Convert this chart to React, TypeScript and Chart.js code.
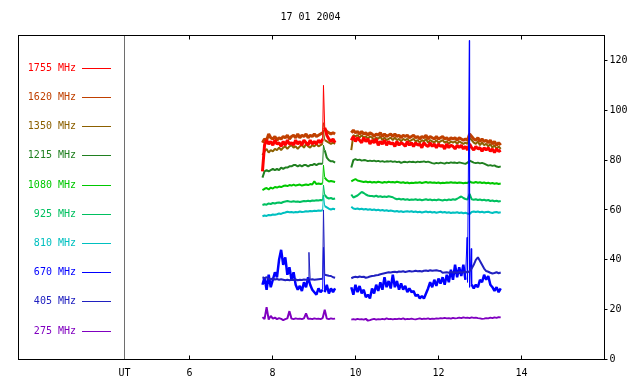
import React, { useEffect, useRef } from 'react';
import { Chart, registerables } from 'chart.js';

Chart.register(...registerables);

const FONT = '"DejaVu Sans Mono", monospace';
const TITLE = '17 01 2004';
const X_MIN = 1.883;
const X_MAX = 16;
const UT_POS = 4.436;
const X_TICKS = [6, 8, 10, 12, 14];
const Y_TICKS = [0, 20, 40, 60, 80, 100, 120];
const SEG1_START = 7.76;
const SEG2_START = 9.9;
const STEP = 0.05;
const GAP_AT = 9.7;

const CHANNELS = ['1755 MHz', '1620 MHz', '1350 MHz', '1215 MHz', '1080 MHz', '925 MHz', '810 MHz', '670 MHz', '405 MHz', '275 MHz'];
const COLORS = ['#ff0000', '#c04000', '#8c6000', '#208020', '#00c800', '#00c060', '#00c0c0', '#0000ff', '#2020c0', '#8000c0'];
const DRAW_ORDER = [2, 3, 4, 5, 6, 7, 8, 1, 0, 9];
const WIDTHS = [3, 3, 2, 2, 2, 2, 2, 2.5, 2, 2];

// 1755 MHz
const F1755_A = [75.5, 86, 88, 86.5, 87.5, 86, 88, 86.5, 87, 85.5,
  87.5, 86, 88, 86.5, 87, 86, 88, 86.5, 87.5, 86,
  88, 87, 86, 88, 86.5, 87.5, 86.5, 88, 87, 88.5,
  93, 90, 88.5, 87.5, 88.5, 87];
const F1755_B = [88, 89.5, 87.5, 89, 88, 87, 89, 87.5, 88.5, 86.5,
  88, 87, 88.5, 86, 87.5, 86.5, 88, 86, 87.5, 86.5,
  87, 85.5, 87.5, 86, 87, 86.5, 85.5, 87.5, 86, 87,
  85.5, 87, 86, 86.5, 85, 87, 86, 85.5, 87, 85.5,
  86.5, 85, 86.5, 85.5, 86, 84.5, 86.5, 85, 86, 85.5,
  84.5, 86, 85, 86, 84.5, 85.5, 84, 86.5, 85, 84,
  85.5, 84.5, 85, 83.5, 85, 84, 85, 83.5, 84.5, 83,
  84.5, 83.5, 84];
const F1755_SPIKES = [[9.23, 110]];

// 1620 MHz
const F1620_A = [87, 88.5, 88, 90.5, 89, 88.5, 89.5, 88, 89, 88.5,
  89.5, 89, 90, 88.5, 89.5, 90, 89, 90.5, 89, 90,
  89.5, 90.5, 89, 90, 89.5, 90.5, 89.5, 90, 90.5, 91,
  92.5, 91.5, 91, 90.5, 91, 90.5];
const F1620_B = [91, 92, 91, 91.5, 90.5, 91.5, 90.5, 91, 90, 91,
  90.5, 89.5, 90.5, 90, 91, 89.5, 90.5, 89.5, 90, 90.5,
  89.5, 90.5, 89.5, 90, 89, 90, 89.5, 90, 89, 89.5,
  90, 89, 89.5, 88.5, 89.5, 89, 90, 88.5, 89.5, 89,
  88.5, 89.5, 88.5, 89, 89.5, 88.5, 89, 88, 89, 88.5,
  89, 88, 89, 88.5, 88, 88.5, 88, 90.5, 89.5, 88.5,
  88, 89, 87.5, 88.5, 87.5, 88, 87, 88, 86.5, 87.5,
  86, 87, 86];
const F1620_SPIKES = [[9.23, 95]];

// 1350 MHz
const F1350_A = [82, 83.5, 84.5, 83, 84, 83.5, 84.5, 84, 85, 84,
  85, 85.5, 84.5, 85.5, 86, 85, 85.5, 84.5, 85.5, 86,
  85, 86.5, 85.5, 85, 86, 85.5, 86.5, 85.5, 86, 86.5,
  88, 87.5, 87, 86.5, 87, 86.5];
const F1350_B = [84, 90, 89.5, 90, 89, 90, 89, 89.5, 88.5, 89.5,
  89, 88, 89, 88.5, 89.5, 88, 89, 88, 88.5, 89,
  88, 89, 88, 88.5, 87.5, 88.5, 88, 88.5, 87.5, 88,
  88.5, 87.5, 88, 87, 88, 87.5, 88.5, 87, 88, 87.5,
  87, 88, 87, 87.5, 88, 87, 87.5, 86.5, 87.5, 87,
  87.5, 86.5, 87.5, 87, 86.5, 87, 86.5, 89, 88, 87,
  86.5, 87.5, 86, 87, 86, 86.5, 85.5, 86.5, 85, 86,
  84.5, 85.5, 84.5];
const F1350_SPIKES = [[9.23, 92]];

// 1215 MHz
const F1215_A = [73, 75.5, 76, 75.5, 76, 76.5, 76, 76.5, 76, 77,
  76.5, 77, 77, 77.5, 77.5, 78, 78, 77.5, 78, 77.5,
  78, 78, 77.5, 78, 78, 78.5, 78, 78.5, 78.5, 78.5,
  84, 81, 80, 79.5, 79.5, 79];
const F1215_B = [77, 80, 80.4, 80, 80.2, 79.8, 80, 79.9, 79.6, 79.8,
  79.6, 79.8, 79.5, 79.7, 79.4, 79.6, 79.3, 79.5, 79.4, 79.6,
  79.3, 79.5, 79.2, 79.4, 78.9, 79.2, 79.3, 79.1, 79.4, 79.2,
  79.3, 79.1, 79.4, 79.2, 79.3, 79.5, 79.2, 79.4, 79.1, 78.8,
  78.6, 78.9, 78.7, 79, 78.8, 78.6, 79, 78.8, 79.1, 78.9,
  79, 78.8, 79.1, 78.9, 78.7, 78.5, 79, 79.8, 79.4, 79,
  78.8, 79, 78.7, 78.9, 78.6, 78.2, 77.8, 78, 77.7, 77.9,
  77.4, 77.2, 77.5];
const F1215_SPIKES = [[9.23, 86]];

// 1080 MHz
const F1080_A = [68, 68.5, 68.8, 68.2, 69, 68.6, 69.2, 69, 69.4, 69.2,
  69.6, 69.8, 69.6, 70, 69.8, 70.2, 69.8, 70, 70.2, 69.8,
  70, 70.2, 70, 70.4, 70.2, 71.5, 70.4, 70.6, 70.4, 70.6,
  73, 72, 71.4, 71.6, 71.4, 71.2];
const F1080_B = [71.5, 72, 72.4, 71.8, 71.6, 71.4, 71.2, 71.4, 71.1, 71.3,
  71, 71.2, 71, 71.3, 71.1, 70.9, 71.2, 71, 71.3, 71.1,
  71.2, 71, 71.3, 71.1, 70.9, 71.1, 70.8, 71, 70.7, 70.9,
  70.8, 71, 70.9, 71.1, 70.8, 71, 71.2, 70.9, 71.1, 70.9,
  71, 70.8, 71, 70.7, 70.9, 70.8, 71, 70.9, 71.1, 70.9,
  71, 70.8, 71, 70.9, 70.7, 70.9, 70.8, 71.5, 71, 70.9,
  71.2, 70.9, 71.1, 70.8, 71, 70.7, 70.9, 70.6, 70.8, 70.5,
  70.7, 70.4, 70.6];
const F1080_SPIKES = [[9.23, 78]];

// 925 MHz
const F925_A = [62, 62.3, 62.1, 62.6, 62.4, 62.8, 62.6, 62.9, 63, 62.8,
  63.2, 63.4, 63.6, 63.4, 63.3, 63.5, 63.3, 63.4, 63.2, 63.4,
  63.6, 63.5, 63.7, 63.5, 63.8, 63.7, 63.9, 63.8, 64, 63.9,
  66, 65, 64.6, 64.8, 64.4, 64.6];
const F925_B = [66.2, 65, 65.4, 65.8, 66.5, 67.2, 66.8, 66.2, 65.8, 65.6,
  65.6, 65.4, 65.7, 65.3, 65.5, 65.2, 65.4, 65.2, 65.5, 65.3,
  65.1, 64.6, 64.3, 64.5, 64.2, 64.4, 64.1, 64.3, 64, 64.2,
  64.1, 64.3, 64, 64.2, 63.9, 64.1, 64.3, 64, 64.2, 63.9,
  64.1, 63.9, 64.2, 64, 63.8, 64.1, 63.9, 64.2, 64, 64.3,
  64.1, 64.5, 65, 65.4, 64.8, 64.4, 64.2, 66.5, 64.3, 64.1,
  64.3, 64, 64.2, 63.9, 64.1, 63.8, 64, 63.6, 63.8, 63.5,
  63.7, 63.4, 63.6];
const F925_SPIKES = [[9.23, 70]];

// 810 MHz
const F810_A = [57.5, 57.8, 57.6, 58, 57.9, 58.2, 58.1, 58.3, 58.6, 58.4,
  58.8, 59, 59.3, 59.1, 59.2, 59, 59.2, 59.1, 59.4, 59.2,
  59.3, 59.5, 59.4, 59.6, 59.5, 59.7, 59.6, 59.8, 59.7, 59.9,
  61.5, 61, 60.5, 60.2, 60.5, 60.3];
const F810_B = [61.3, 60.6, 60.4, 60.6, 60.3, 60.5, 60.2, 60.4, 60.1, 60.3,
  60, 60.2, 59.9, 60.1, 59.8, 60, 59.7, 59.9, 59.6, 59.8,
  59.6, 59.4, 59.6, 59.3, 59.5, 59.2, 59.4, 59.5, 59.3, 59.5,
  59.2, 59.4, 59.1, 59.3, 59, 59.2, 59.4, 59.1, 59.3, 59,
  59.2, 58.9, 59.1, 59.3, 59, 59.2, 58.9, 59.1, 58.8, 59,
  58.9, 59.1, 58.8, 59, 58.7, 58.9, 58.6, 58.4, 59.2, 59.4,
  59.2, 59.4, 59.1, 59.3, 59, 59.2, 59.3, 59, 58.8, 59.1,
  59.2, 58.9, 59.1];
const F810_SPIKES = [[9.23, 66]];

// 670 MHz
const F670_A = [30, 33, 28, 34, 29, 32, 35, 33, 40, 44,
  38, 41, 34, 37, 32, 35, 30, 28, 29.5, 27.5,
  31, 29, 33, 30, 28, 27, 26, 28.5, 27, 28,
  27, 30, 26.5, 28.5, 27, 28.5];
const F670_B = [29, 26, 30, 27, 29.5, 26.5, 28, 25, 26, 24.5,
  28.5, 26.5, 30, 27.5, 31, 28, 33, 29, 31.5, 28.5,
  34, 29, 31.5, 28, 30.5, 28, 29.5, 27, 28.5, 27,
  27.5, 25.5, 26, 24.5, 25.5, 24.5, 26.5, 28.5, 31, 29,
  32, 29.5, 32.5, 30.5, 33, 30, 34, 31, 36, 32,
  38, 33, 37, 33.5, 38, 32, 31, 29, 30, 28.5,
  30, 29, 32, 31, 34, 32, 33.5, 30, 29, 27.5,
  29, 27, 28.5];
const F670_SPIKES = [[9.23, 45], [12.69, 49], [12.745, 128], [12.79, 44.5]];

// 405 MHz
const F405_A = [33, 32.6, 33, 32.4, 32.2, 32.5, 32.1, 32.3, 32, 32.2,
  32, 31.8, 32, 31.8, 32, 31.9, 32.1, 31.8, 32, 31.9,
  32.1, 32, 32.1, 32, 32.2, 32, 32.1, 32.2, 32.3, 32.4,
  34, 33.8, 33.6, 33.5, 33, 32.8];
const F405_B = [32.6, 33, 33.2, 33, 33.3, 33.1, 33.2, 32.8, 33, 33.3,
  33.5, 33.6, 33.8, 33.9, 34.2, 34.4, 34.6, 34.8, 35, 34.9,
  35.1, 35.2, 35, 35.3, 35.2, 35.4, 35.1, 35.3, 35.5, 35.3,
  35.4, 35.6, 35.4, 35.5, 35.3, 35.6, 35.7, 35.5, 35.8, 35.6,
  35.7, 35.8, 35.6, 35.5, 34.8, 34.9, 35, 34.8, 35.1, 34.9,
  35, 34.8, 35.1, 34.9, 35, 35.2, 34.9, 35.5, 36.5, 38,
  40, 41, 39.5, 38, 36.5, 35.5, 35.2, 34.8, 34.5, 34.7,
  35, 34.6, 34.9];
const F405_SPIKES = [[8.88, 43], [9.23, 60]];

// 275 MHz
const F275_A = [17, 16.2, 21, 16, 17.5, 16.4, 16.8, 16.2, 16.6, 16.3,
  15.8, 16.2, 16.5, 19.4, 16.4, 16.2, 16.5, 16.3, 16.4, 16.2,
  16.5, 18.5, 16.3, 16.4, 16.2, 16.5, 16.3, 16.4, 16.2, 16.6,
  20, 16.4, 16.2, 16.5, 16.3, 16.4];
const F275_B = [16, 16.2, 16, 16.3, 16.1, 16.2, 16, 16.3, 15.6, 15.8,
  16.1, 16.3, 16, 16.2, 16.1, 16.3, 16.1, 16.5, 16.2, 16.3,
  16.1, 16.3, 16.2, 16.4, 16.2, 16.5, 16.1, 16.3, 16.2, 16.4,
  16.2, 16.1, 16.3, 16.5, 16.2, 16.4, 16.3, 16.5, 16.2, 16.4,
  16.3, 16.5, 16.4, 16.6, 16.5, 16.7, 16.5, 16.6, 16.4, 16.7,
  16.5, 16.6, 16.8, 16.6, 16.9, 16.7, 16.8, 16.6, 16.9, 16.7,
  16.8, 16.6, 16.5, 16.3, 16.4, 16.6, 16.5, 16.8, 16.6, 16.9,
  16.7, 17, 16.9];
const F275_SPIKES: number[][] = [];

const SERIES_A = [F1755_A, F1620_A, F1350_A, F1215_A, F1080_A, F925_A, F810_A, F670_A, F405_A, F275_A];
const SERIES_B = [F1755_B, F1620_B, F1350_B, F1215_B, F1080_B, F925_B, F810_B, F670_B, F405_B, F275_B];
const SERIES_SPIKES = [F1755_SPIKES, F1620_SPIKES, F1350_SPIKES, F1215_SPIKES, F1080_SPIKES, F925_SPIKES, F810_SPIKES, F670_SPIKES, F405_SPIKES, F275_SPIKES];

function buildPoints(a: number[], b: number[], spikes: number[][]) {
  const pts: { x: number; y: number | null }[] = [];
  a.forEach((v, i) => pts.push({ x: +(SEG1_START + i * STEP).toFixed(3), y: v }));
  pts.push({ x: GAP_AT, y: null });
  b.forEach((v, i) => pts.push({ x: +(SEG2_START + i * STEP).toFixed(3), y: v }));
  spikes.forEach(([x, y]) => pts.push({ x, y }));
  pts.sort((p, q) => p.x - q.x);
  return pts;
}

const framePlugin = {
  id: 'framePlugin',
  beforeDatasetsDraw(chart: any) {
    const { ctx, chartArea } = chart;
    const xs = chart.scales.x;
    const ux = Math.floor(xs.getPixelForValue(UT_POS)) + 0.5;
    ctx.save();
    ctx.strokeStyle = '#6e6e6e';
    ctx.lineWidth = 1;
    ctx.beginPath();
    ctx.moveTo(ux, chartArea.top);
    ctx.lineTo(ux, chartArea.bottom);
    ctx.stroke();
    ctx.restore();
  },
  afterDatasetsDraw(chart: any) {
    const { ctx, chartArea } = chart;
    const xs = chart.scales.x;
    const { left, top, right, bottom } = chartArea;
    ctx.save();
    ctx.strokeStyle = '#000';
    ctx.lineWidth = 1;
    ctx.strokeRect(left, top, right - left, bottom - top);
    ctx.beginPath();
    X_TICKS.forEach((v) => {
      const px = Math.floor(xs.getPixelForValue(v)) + 0.5;
      ctx.moveTo(px, bottom);
      ctx.lineTo(px, bottom - 4);
      ctx.moveTo(px, top);
      ctx.lineTo(px, top + 4);
    });
    ctx.stroke();
    ctx.font = `10px ${FONT}`;
    ctx.fillStyle = '#000';
    ctx.textAlign = 'center';
    ctx.textBaseline = 'middle';
    ctx.fillText(TITLE, 310.5, 17.5);
    ctx.textAlign = 'right';
    CHANNELS.forEach((name, i) => {
      const y = Math.round(top + 32.2 + 29.2 * i);
      ctx.fillStyle = COLORS[i];
      ctx.fillText(name, 76, y);
      ctx.strokeStyle = COLORS[i];
      ctx.beginPath();
      ctx.moveTo(82, y + 0.5);
      ctx.lineTo(111, y + 0.5);
      ctx.stroke();
    });
    ctx.restore();
  },
};

export default function App() {
  const ref = useRef<HTMLCanvasElement | null>(null);
  useEffect(() => {
    document.body.style.margin = '0';
    const canvas = ref.current;
    if (!canvas) return;
    const datasets = CHANNELS.map((name, i) => {
      const spikeXs = new Set(SERIES_SPIKES[i].map((s) => s[0]));
      const w = WIDTHS[i];
      return {
        label: name,
        data: buildPoints(SERIES_A[i], SERIES_B[i], SERIES_SPIKES[i]),
        borderColor: COLORS[i],
        backgroundColor: COLORS[i],
        borderWidth: w,
        pointRadius: 0,
        tension: 0,
        fill: false,
        spanGaps: false,
        order: DRAW_ORDER[i],
        borderJoinStyle: 'bevel',
        segment: {
          borderWidth: (c: any) =>
            spikeXs.has(c.p0.parsed.x) || spikeXs.has(c.p1.parsed.x) ? 1 : w,
        },
      };
    });
    const chart = new Chart(canvas, {
      type: 'line',
      data: { datasets },
      options: {
        animation: false,
        responsive: false,
        devicePixelRatio: 1,
        layout: { padding: { left: 18.5, top: 35.5, right: 0.5, bottom: 0 } },
        plugins: {
          legend: { display: false },
          tooltip: { enabled: false },
          title: { display: false },
        },
        scales: {
          x: {
            type: 'linear',
            position: 'bottom',
            min: X_MIN,
            max: X_MAX,
            afterBuildTicks: (s: any) => {
              s.ticks = [UT_POS, ...X_TICKS].map((v) => ({ value: v }));
            },
            afterFit: (s: any) => {
              s.height = 24.5;
            },
            grid: { display: false, drawTicks: false },
            border: { display: false },
            ticks: {
              autoSkip: false,
              maxRotation: 0,
              padding: 8,
              color: '#000',
              font: { family: FONT, size: 10 },
              callback: (v: any) => (v === UT_POS ? 'UT' : String(v)),
            },
          },
          y: {
            type: 'linear',
            position: 'right',
            min: 0,
            max: 130,
            afterBuildTicks: (s: any) => {
              s.ticks = Y_TICKS.map((v) => ({ value: v }));
            },
            afterFit: (s: any) => {
              s.width = 35;
            },
            grid: { drawOnChartArea: false, drawTicks: true, tickLength: 3, color: '#000', lineWidth: 1 },
            border: { display: false },
            ticks: {
              padding: 2,
              color: '#000',
              font: { family: FONT, size: 10 },
              callback: (v: any) => String(v),
            },
          },
        },
      } as any,
      plugins: [framePlugin],
    });
    return () => chart.destroy();
  }, []);
  return (
    <div style={{ width: 640, height: 384, position: 'relative', background: '#fff' }}>
      <canvas ref={ref} width={640} height={384} />
    </div>
  );
}
